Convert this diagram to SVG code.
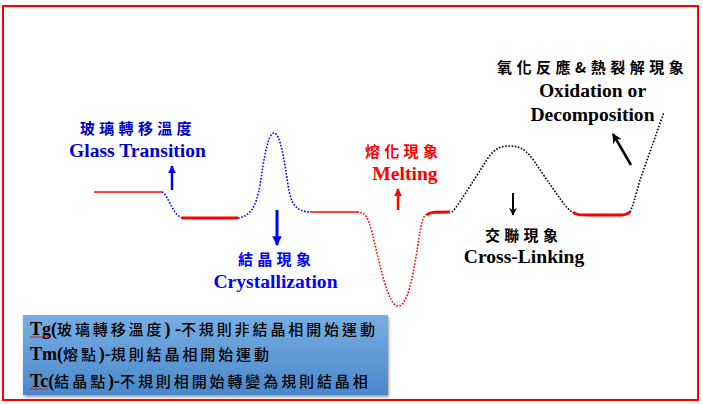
<svg xmlns="http://www.w3.org/2000/svg" width="703" height="404" viewBox="0 0 703 404">
<style>
.frame{fill:none;stroke:#f00;stroke-width:2}
.thin{fill:none;stroke:#f00;stroke-width:1.5}
.thick{fill:none;stroke:#f00;stroke-width:3}
.dot{fill:none;stroke-width:1.6;stroke-dasharray:1.6 1.6}
.en{font-family:"Liberation Serif","Times New Roman",serif;font-weight:bold;font-size:19.6px;text-anchor:middle}
.cjk{font-family:"Noto Sans CJK TC","Noto Sans CJK SC",sans-serif;font-size:15px;font-weight:bold;letter-spacing:4.3px}
.box{font-family:"Liberation Serif","Noto Sans CJK TC",serif;fill:#000}
.bl{font-family:"Liberation Serif",serif;font-weight:bold;font-size:18px}
.bc{font-family:"Noto Sans CJK TC","Noto Sans CJK SC",sans-serif;font-size:15px;font-weight:500;letter-spacing:2.9px}
</style>
<defs>
<marker id="hb" viewBox="0 0 10 10" refX="9" refY="5" markerWidth="3.2" markerHeight="3.2" orient="auto" markerUnits="strokeWidth"><path d="M0,0 L10,5 L0,10 Z" fill="#0000ff"/></marker>
<marker id="hr" viewBox="0 0 10 10" refX="9" refY="5" markerWidth="3.2" markerHeight="3.2" orient="auto" markerUnits="strokeWidth"><path d="M0,0 L10,5 L0,10 Z" fill="#ff0000"/></marker>
<marker id="hk" viewBox="0 0 10 10" refX="9" refY="5" markerWidth="4" markerHeight="4" orient="auto" markerUnits="strokeWidth"><path d="M0,0 L10,5 L0,10 L3,5 Z" fill="#000"/></marker>
<linearGradient id="bg" x1="0" y1="0" x2="0" y2="1"><stop offset="0" stop-color="#78aee2"/><stop offset="1" stop-color="#4a88cc"/></linearGradient>
<filter id="sh" x="-5%" y="-10%" width="110%" height="130%"><feDropShadow dx="1" dy="2" stdDeviation="1.5" flood-color="#000" flood-opacity="0.4"/></filter>
</defs>
<rect class="frame" x="3" y="6" width="695" height="394"/>
<g id="connectors">
<path class="thin" d="M94,192 H162"/>
<path class="dot" stroke="#0000ff" d="M162,192 C168,194 172,214 182,218"/>
<path class="thick" d="M182,218 H238"/>
<path class="dot" stroke="#0000ff" d="M238,218 C250,216 256,208 260,185 C264,158 268,133 274,133 C280,133 284,158 288,185 C291,205 296,211 310,212"/>
<path class="thin" d="M310,212 H357"/>
<path class="dot" stroke="#ff0000" d="M357,212 C366,212 368,218 372,232 C380,265 388,306 398,306 C408,306 413,275 418,245 C421,225 422,215 428,214"/>
<path class="thick" stroke-width="2.5" d="M427,215 C430,212 433,212 450,212"/>
<path class="dot" stroke="#000" d="M452,212 C456,208 460,202 488,158 C496,147 502,146 510,146 C518,146 524,148 532,158 C562,202 566,208 572,212"/>
<path class="thick" stroke-width="2.5" d="M573,212 C576,215 580,215 590,215 L620,215 C626,215 628,214 630,212"/>
<path class="dot" stroke="#000" d="M630,212 C633,206 635,198 640,180 L664,112"/>
<line x1="172" y1="190" x2="172" y2="166" stroke="#0000ff" stroke-width="2.5" marker-end="url(#hb)"/>
<line x1="277" y1="210" x2="277" y2="245" stroke="#0000ff" stroke-width="3" marker-end="url(#hb)"/>
<line x1="398" y1="210" x2="398" y2="189" stroke="#ff0000" stroke-width="2.5" marker-end="url(#hr)"/>
<line x1="513" y1="193" x2="513" y2="215" stroke="#000" stroke-width="2" marker-end="url(#hk)"/>
<line x1="631" y1="165" x2="613" y2="134" stroke="#000" stroke-width="2.5" marker-end="url(#hk)"/>
</g>
<g id="glass">
<text class="cjk" x="80" y="134" fill="#0000cc">玻璃轉移溫度</text>
<text class="en" x="137.5" y="157" fill="#0000cc">Glass Transition</text>
</g>
<g id="cryst">
<text class="cjk" x="238" y="265" fill="#0000ff">結晶現象</text>
<text class="en" x="275.5" y="288" fill="#0000ff">Crystallization</text>
</g>
<g id="melt">
<text class="cjk" x="365" y="157" fill="#ff0000">熔化現象</text>
<text class="en" x="405" y="180" fill="#ff0000">Melting</text>
</g>
<g id="crosslink">
<text class="cjk" x="485" y="241" fill="#000">交聯現象</text>
<text class="en" x="524" y="263" fill="#000">Cross-Linking</text>
</g>
<g id="oxid">
<text class="cjk" x="497" y="73" fill="#000" textLength="191">氧化反應&amp;熱裂解現象</text>
<text class="en" x="592.5" y="97" fill="#000">Oxidation or</text>
<text class="en" x="592.5" y="121" fill="#000">Decomposition</text>
</g>
<g id="legend">
<rect x="23" y="315" width="365" height="80" fill="url(#bg)" filter="url(#sh)"/>
<text class="box" x="30" y="335"><tspan class="bl">Tg(</tspan><tspan class="bc">玻璃轉移溫度</tspan><tspan class="bl">) -</tspan><tspan class="bc">不規則非結晶相開始運動</tspan></text>
<text class="box" x="30" y="360"><tspan class="bl">Tm(</tspan><tspan class="bc">熔點</tspan><tspan class="bl">)-</tspan><tspan class="bc">規則結晶相開始運動</tspan></text>
<text class="box" x="30" y="387"><tspan class="bl">Tc(</tspan><tspan class="bc">結晶點</tspan><tspan class="bl">)-</tspan><tspan class="bc">不規則相開始轉變為規則結晶相</tspan></text>
<path d="M30,337.5 l2,-1 l2,1 l2,-1 l2,1 l2,-1 l2,1 l2,-1 l2,1 l2,-1 l2,1" fill="none" stroke="#e00" stroke-width="0.8"/>
<path d="M30,389.5 l2,-1 l2,1 l2,-1 l2,1 l2,-1 l2,1 l2,-1 l2,1 l2,-1" fill="none" stroke="#e00" stroke-width="0.8"/>
</g>
</svg>
